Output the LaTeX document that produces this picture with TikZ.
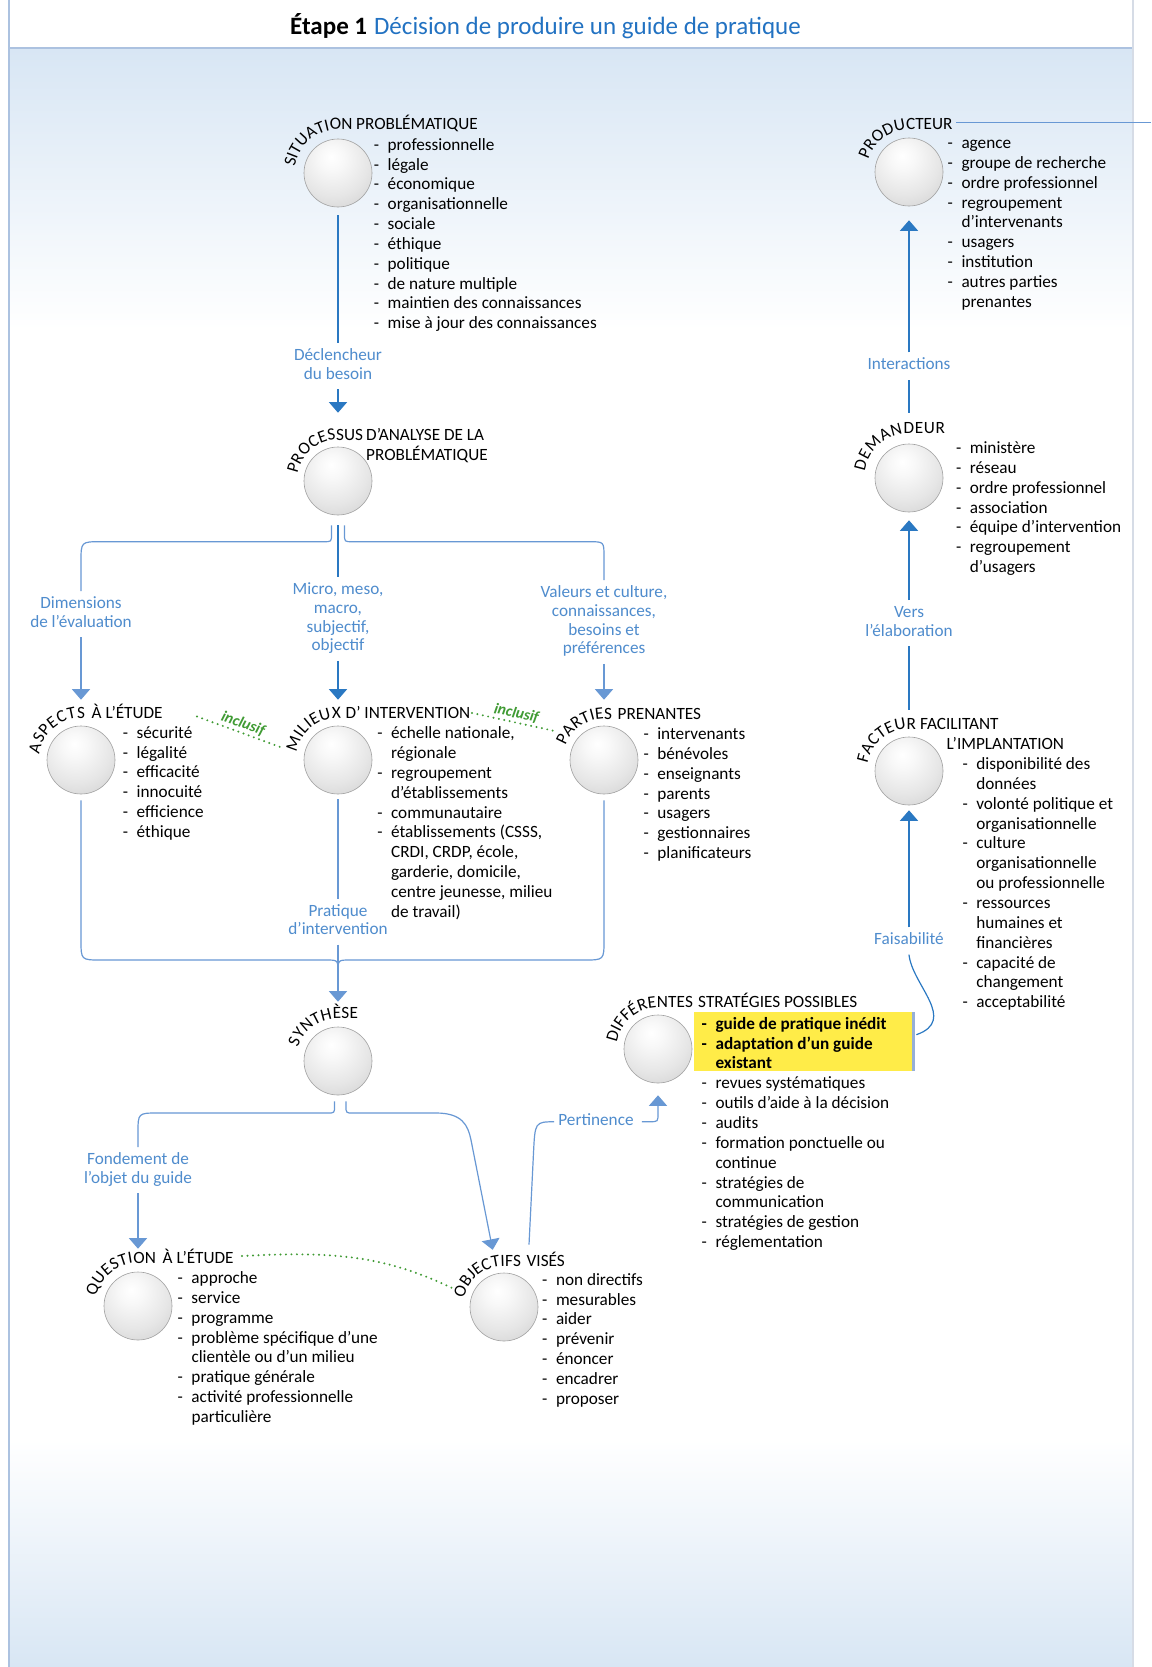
\documentclass[tikz,border=0pt]{standalone}
\usepackage{fontspec}
\setmainfont{Carlito}
\usetikzlibrary{arrows.meta,decorations.text,calc}

\definecolor{dkline}{RGB}{42,120,194}
\definecolor{ltline}{RGB}{104,152,212}
\definecolor{lbltxt}{RGB}{79,140,205}
\definecolor{ttlblue}{RGB}{34,114,194}
\definecolor{incgreen}{RGB}{64,155,52}
\definecolor{bgblue}{RGB}{216,230,244}
\definecolor{hlyellow}{RGB}{255,236,72}
\definecolor{hledge}{RGB}{150,175,215}
\definecolor{frameblue}{RGB}{172,194,224}
\definecolor{framegray}{RGB}{214,220,230}
\definecolor{sphedge}{RGB}{160,160,160}
\definecolor{sphA}{RGB}{248,248,248}
\definecolor{sphB}{RGB}{230,230,230}
\definecolor{sphC}{RGB}{205,205,205}
\definecolor{sphD}{RGB}{182,182,182}

\pgfdeclareradialshading{sphshade}{\pgfpoint{-5bp}{12bp}}{color(0bp)=(white); color(9bp)=(sphA); color(26bp)=(sphB); color(44bp)=(sphC); color(58bp)=(sphD); color(100bp)=(sphD)}

\newcommand\lstfont{\fontsize{17.2}{19.85}\selectfont}
\newcommand\lblfont{\fontsize{17.2}{19.85}\selectfont}
\newcommand\cfont{\fontsize{17.2}{18.8}\selectfont}
\newlength\dw
\setlength\dw{13.8pt}
\newcommand\Litem[1]{\strut\makebox[\dw][l]{-}#1}
\newcommand\Lcont[1]{\strut\hspace*{\dw}#1}

\newcommand\arclbl[5]{%
  \path[decorate, decoration={text along path, text={|\lblfont|#5}, text align={fit to path}}]
    ([shift={(#1)}]#3:#2pt) arc[start angle=#3, end angle=90, radius=#2pt] -- ++(#4pt,0pt);}

\tikzset{
  sph/.style={circle, minimum size=68pt, inner sep=0pt, draw=sphedge, line width=0.6pt, shade, shading=sphshade},
  lst/.style={anchor=north west, inner sep=0pt, align=left, font=\lstfont, text=black},
  lblr/.style={anchor=base west, inner sep=0pt, font=\lblfont},
  clbl/.style={align=center, font=\cfont, text=lbltxt, inner sep=4pt},
  dkc/.style={draw=dkline, line width=1.2pt},
  ltc/.style={draw=ltline, line width=1.2pt},
  tipD/.style={-{Triangle[width=18pt,length=10.5pt]}},
  incl/.style={draw=incgreen, line width=2.2pt, dash pattern=on 0pt off 5.5pt, line cap=round},
  inctxt/.style={text=incgreen, font={\fontsize{15.5}{18}\selectfont\bfseries\itshape}, inner sep=1.5pt}
}

\begin{document}
\begin{tikzpicture}[x=1pt,y=-1pt]
\useasboundingbox (0,0) rectangle (1151,1667);
% background
\fill[white] (0,0) rectangle (1151,1667);
\shade[top color=bgblue, bottom color=white] (9,49) rectangle (1133,330);
\shade[top color=white, bottom color=bgblue] (9,1440) rectangle (1133,1667);
\draw[frameblue, line width=1.5pt] (9,48) -- (1133,48);
\draw[frameblue, line width=1.5pt] (9,0) -- (9,1667);
\draw[framegray, line width=1.5pt] (1133,0) -- (1133,1667);

% title
\node[anchor=base, inner sep=0pt] (title) at (545.5,35) {\fontsize{25}{29}\selectfont\textbf{Étape 1}\hspace{7pt}\textcolor{ttlblue}{Décision de produire un guide de pratique}};

% spheres
\node[sph] (sit) at (338,173) {};
\node[sph] (proc) at (338,481) {};
\node[sph] (asp) at (81,760) {};
\node[sph] (mil) at (338,760) {};
\node[sph] (par) at (604,760) {};
\node[sph] (syn) at (338,1061) {};
\node[sph] (dif) at (658,1049) {};
\node[sph] (que) at (138,1306) {};
\node[sph] (obj) at (504,1307) {};
\node[sph] (prod) at (909,172) {};
\node[sph] (dem) at (909,478) {};
\node[sph] (fac) at (909,771) {};

% curved labels
\arclbl{sit}{43.5}{172}{14}{SITUATION}
\arclbl{proc}{41}{170}{25}{PROCESSUS}
\arclbl{asp}{42}{172}{4}{ASPECTS}
\arclbl{mil}{42}{170}{3}{MILIEUX}
\arclbl{par}{41}{160}{8}{PARTIES}
\arclbl{fac}{42}{170}{7}{FACTEUR}
\arclbl{prod}{42.5}{163}{43}{PRODUCTEUR}
\arclbl{dem}{44.5}{172}{36}{DEMANDEUR}
\arclbl{syn}{42.5}{161}{20}{SYNTHÈSE}
\arclbl{dif}{41.5}{171}{35}{DIFFÉRENTES}
\arclbl{que}{43}{167}{18}{QUESTION}
\arclbl{obj}{41}{168}{17}{OBJECTIFS}

% label remainders
\node[lblr] (sitR) at (356,129.5) {PROBLÉMATIQUE};
\node[lblr] (procR1) at (366,440) {D’ANALYSE DE LA};
\node[lblr] (procR2) at (366,460) {PROBLÉMATIQUE};
\node[lblr] (aspR) at (91.5,718) {À L’ÉTUDE};
\node[lblr] (milR) at (345.5,718) {D’ INTERVENTION};
\node[lblr] (parR) at (617.5,719) {PRENANTES};
\node[lblr] (facR1) at (920,729) {FACILITANT};
\node[lblr] (facR2) at (946.5,749) {L’IMPLANTATION};
\node[lblr] (difR) at (698,1007.5) {STRATÉGIES POSSIBLES};
\node[lblr] (queR) at (162.5,1263) {À L’ÉTUDE};
\node[lblr] (objR) at (526.5,1266) {VISÉS};

% highlight box
\node[fill=hlyellow, inner sep=0pt, minimum width=219pt, minimum height=59pt, anchor=north west] (hl) at (694,1012) {};
\draw[hledge, line width=2.5pt] (hl.north east) -- (hl.south east);

% lists
\node[lst] (sitL) at (373.7,136.1) {\Litem{professionnelle}\\\Litem{légale}\\\Litem{économique}\\\Litem{organisationnelle}\\\Litem{sociale}\\\Litem{éthique}\\\Litem{politique}\\\Litem{de nature multiple}\\\Litem{maintien des connaissances}\\\Litem{mise à jour des connaissances}};
\node[lst] (prodL) at (947.5,134.4) {\Litem{agence}\\\Litem{groupe de recherche}\\\Litem{ordre professionnel}\\\Litem{regroupement}\\\Lcont{d’intervenants}\\\Litem{usagers}\\\Litem{institution}\\\Litem{autres parties}\\\Lcont{prenantes}};
\node[lst] (demL) at (955.8,439.4) {\Litem{ministère}\\\Litem{réseau}\\\Litem{ordre professionnel}\\\Litem{association}\\\Litem{équipe d’intervention}\\\Litem{regroupement}\\\Lcont{d’usagers}};
\node[lst] (facL) at (962.3,755.4) {\Litem{disponibilité des}\\\Lcont{données}\\\Litem{volonté politique et}\\\Lcont{organisationnelle}\\\Litem{culture}\\\Lcont{organisationnelle}\\\Lcont{ou professionnelle}\\\Litem{ressources}\\\Lcont{humaines et}\\\Lcont{financières}\\\Litem{capacité de}\\\Lcont{changement}\\\Litem{acceptabilité}};
\node[lst] (aspL) at (122.7,724.1) {\Litem{sécurité}\\\Litem{légalité}\\\Litem{efficacité}\\\Litem{innocuité}\\\Litem{efficience}\\\Litem{éthique}};
\node[lst] (milL) at (377.1,724.6) {\Litem{échelle nationale,}\\\Lcont{régionale}\\\Litem{regroupement}\\\Lcont{d’établissements}\\\Litem{communautaire}\\\Litem{établissements (CSSS,}\\\Lcont{CRDI, CRDP, école,}\\\Lcont{garderie, domicile,}\\\Lcont{centre jeunesse, milieu}\\\Lcont{de travail)}};
\node[lst] (parL) at (643.3,725.4) {\Litem{intervenants}\\\Litem{bénévoles}\\\Litem{enseignants}\\\Litem{parents}\\\Litem{usagers}\\\Litem{gestionnaires}\\\Litem{planificateurs}};
\node[lst] (difL) at (701.5,1015.1) {\textbf{\Litem{guide de pratique inédit}}\\\textbf{\Litem{adaptation d’un guide}}\\\textbf{\Lcont{existant}}\\\Litem{revues systématiques}\\\Litem{outils d’aide à la décision}\\\Litem{audits}\\\Litem{formation ponctuelle ou}\\\Lcont{continue}\\\Litem{stratégies de}\\\Lcont{communication}\\\Litem{stratégies de gestion}\\\Litem{réglementation}};
\node[lst] (queL) at (177.5,1269.4) {\Litem{approche}\\\Litem{service}\\\Litem{programme}\\\Litem{problème spécifique d’une}\\\Lcont{clientèle ou d’un milieu}\\\Litem{pratique générale}\\\Litem{activité professionnelle}\\\Lcont{particulière}};
\node[lst] (objL) at (542,1271.1) {\Litem{non directifs}\\\Litem{mesurables}\\\Litem{aider}\\\Litem{prévenir}\\\Litem{énoncer}\\\Litem{encadrer}\\\Litem{proposer}};

% connector labels
\node[clbl] (decl) at (338,366.3) {\strut Déclencheur\\\strut du besoin};
\node[clbl] (dim) at (81,614) {\strut Dimensions\\\strut de l’évaluation};
\node[clbl] (micro) at (338,619) {\strut Micro, meso,\\\strut macro,\\\strut subjectif,\\\strut objectif};
\node[clbl] (val) at (604,622) {\strut Valeurs et culture,\\\strut connaissances,\\\strut besoins et\\\strut préférences};
\node[clbl] (prat) at (338,921.7) {\strut Pratique\\\strut d’intervention};
\node[clbl] (fond) at (138,1170) {\strut Fondement de\\\strut l’objet du guide};
\node[clbl] (pert) at (596,1121.7) {\strut Pertinence};
\node[clbl] (fais) at (909,941) {\strut Faisabilité};
\node[clbl] (vers) at (909,623) {\strut Vers\\\strut l’élaboration};
\node[clbl] (inter) at (909,366) {\strut Interactions};

% connectors: centre column
\draw[dkc, shorten <=8pt] (sit) -- (decl);
\draw[dkc, tipD, shorten >=34pt] (decl) -- (proc);
\draw[ltc] ([shift={(-6.5pt,-10pt)}]proc.south) -- (331.5,534) .. controls (331.5,541.7) .. (324,541.7) -- (101,541.7) .. controls (81,541.7) .. (81,561.7) -- (dim.north);
\draw[dkc, shorten <=10pt] (proc) -- (micro);
\draw[ltc] ([shift={(6.5pt,-10pt)}]proc.south) -- (344.5,534) .. controls (344.5,541.7) .. (352,541.7) -- (589,541.7) .. controls (604,541.7) .. (604,556.7) -- (val.north);
\draw[ltc, tipD, shorten >=26pt] (dim) -- (asp);
\draw[dkc, tipD, shorten >=26pt] (micro) -- (mil);
\draw[ltc, tipD, shorten >=26pt] (val) -- (par);

\draw[ltc] ([yshift=-6pt]asp.south) -- (81,940) .. controls (81,960) .. (101,960) -- (326,960) .. controls (338,960) .. (338,972);
\draw[ltc] ([yshift=-6pt]par.south) -- (604,940) .. controls (604,960) .. (584,960) -- (350,960) .. controls (338,960) .. (338,972);
\draw[ltc, shorten <=5pt] (mil) -- (prat);
\draw[ltc, tipD, shorten >=25pt] (prat) -- (syn);

\draw[ltc] ([shift={(-3.5pt,-6pt)}]syn.south) -- (334.5,1106) .. controls (334.5,1113) .. (327.5,1113) -- (158,1113) .. controls (138,1113) .. (138,1133) -- (fond.north);
\draw[ltc, tipD, shorten >=23pt] (fond) -- (que);
\draw[ltc, tipD, shorten >=24pt] ([shift={(8pt,-6pt)}]syn.south) -- (346,1106) .. controls (346,1113) .. (353,1113) -- (436,1113) .. controls (462,1113) and (468,1125) .. (471,1140) -- (obj);

\draw[ltc] ([shift={(25pt,28pt)}]obj.north) -- (533.5,1153) .. controls (535,1122) .. (pert.west);
\draw[ltc, tipD, shorten <=4pt, shorten >=12pt] (pert.east) -- (650,1121.7) .. controls (658,1121.7) .. (658,1113) -- (dif);

% right column
\draw[dkc] ([shift={(3pt,7pt)}]hl.east) .. controls (958,1020) and (912,985) .. (fais.south);
\draw[dkc, tipD, shorten >=5pt] (fais) -- (fac);
\draw[dkc, shorten <=27pt] (fac) -- (vers);
\draw[dkc, tipD, shorten >=8pt] (vers) -- (dem);
\draw[dkc, shorten <=31pt] (dem) -- (inter);
\draw[dkc, tipD, shorten >=14pt] (inter) -- (prod);

\coordinate (prodEnd) at (956,122.5);
\coordinate (edgeR) at (1151,122.5);
\draw[ltc, line width=1pt] (prodEnd) -- (edgeR);

% inclusif links
\coordinate (i1a) at (197,716.5);
\coordinate (i1b) at (283,748);
\draw[incl] (i1a) -- node[inctxt, sloped, above] {inclusif} (i1b);
\coordinate (i2a) at (472,713);
\coordinate (i2b) at (557,731.5);
\draw[incl] (i2a) -- node[inctxt, sloped, above] {inclusif} (i2b);
\coordinate (i3a) at (242,1256);
\coordinate (i3b) at (452,1288);
\draw[incl] (i3a) .. controls (335,1251) and (385,1256) .. (i3b);
\end{tikzpicture}
\end{document}
